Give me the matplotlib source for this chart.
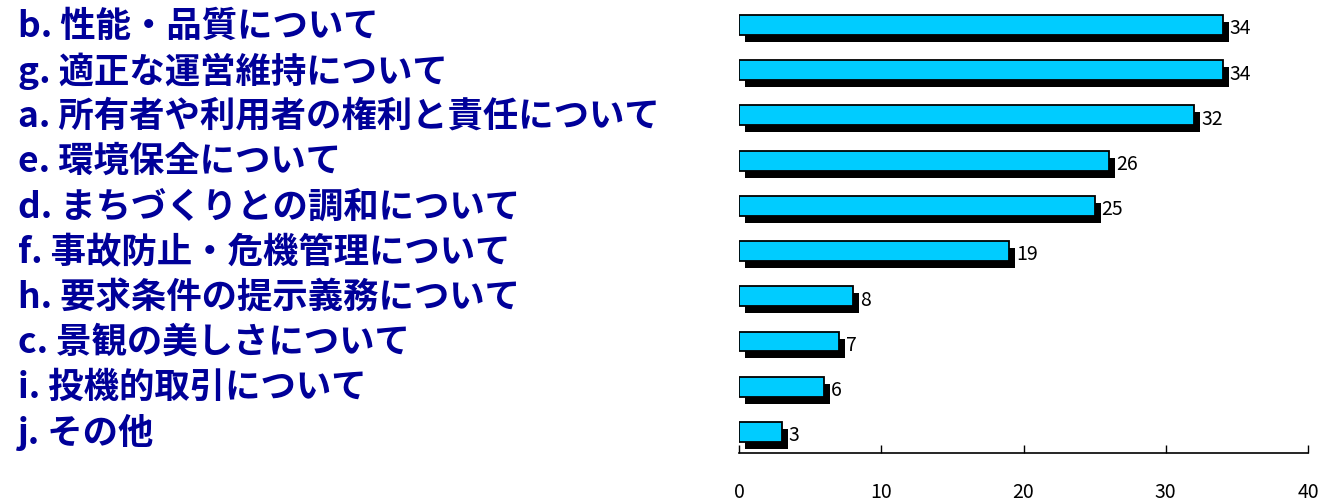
import matplotlib
matplotlib.use("Agg")
import matplotlib.pyplot as plt
import matplotlib.transforms as mtransforms

plt.rcParams['font.family'] = ['Noto Sans CJK JP', 'DejaVu Sans']

categories = [
    "b. 性能・品質について",
    "g. 適正な運営維持について",
    "a. 所有者や利用者の権利と責任について",
    "e. 環境保全について",
    "d. まちづくりとの調和について",
    "f. 事故防止・危機管理について",
    "h. 要求条件の提示義務について",
    "c. 景観の美しさについて",
    "i. 投機的取引について",
    "j. その他",
]
values = [34, 34, 32, 26, 25, 19, 8, 7, 6, 3]
xticks = [0, 10, 20, 30, 40]

fig = plt.figure(figsize=(13.28, 5.02), dpi=100)
ax = fig.add_axes([739/1328, 48/502, (1308-739)/1328, (454-3.4)/502])

ypos = list(range(len(categories)))

# shadow bars (offset copy of the data transform)
off = mtransforms.ScaledTranslation(6/100, -7/100, fig.dpi_scale_trans)
ax.barh(ypos, values, height=0.44, color='black', edgecolor='black', linewidth=0,
        zorder=2, transform=ax.transData + off)

ax.barh(ypos, values, height=0.44, color='#00CCFF', edgecolor='black', linewidth=1.3, zorder=3)

for y, v in zip(ypos, values):
    ax.annotate(str(v), xy=(v, y), xytext=(5, -2), textcoords='offset points',
                va='center', ha='left', fontsize=14, color='black')

ax.set_xlim(0, 40)
ax.set_ylim(9.465, -0.5)
ax.set_xticks(xticks)
ax.set_yticks([])
for s in ['top', 'right', 'left']:
    ax.spines[s].set_visible(False)
ax.spines['bottom'].set_linewidth(1.2)
ax.tick_params(axis='x', direction='in', length=6, width=1, pad=20, labelsize=14)

trans = mtransforms.blended_transform_factory(fig.transFigure, ax.transData)
for y, c in zip(ypos, categories):
    ax.text(18/1328, y, c, transform=trans, ha='left', va='center',
            fontsize=25.5, fontweight='bold', color='#000099')

fig.savefig("out.png", dpi=100)
